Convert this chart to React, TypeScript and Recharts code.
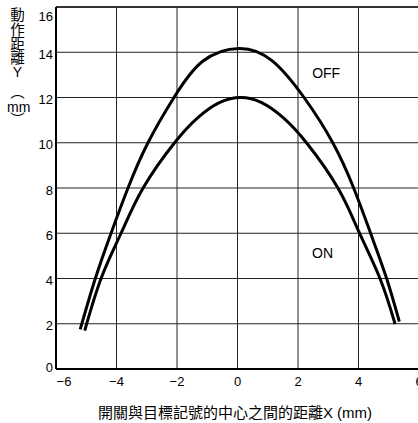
import { LineChart, Line, XAxis, YAxis, CartesianGrid, ReferenceLine, ReferenceDot } from 'recharts';

const X_TICKS = [-6, -4, -2, 0, 2, 4, 6];
const Y_TICKS = [0, 2, 4, 6, 8, 10, 12, 14, 16];

// OFF curve (outer)
const OFF_X = [-5.2, -4.7, -4.18, -3.62, -2.96, -2.1, -1.15, 0.06, 1.15, 2.2, 3.15, 3.84, 4.4, 4.93, 5.35];
const OFF_Y = [1.75, 4, 6, 8, 10, 12, 13.6, 14.17, 13.62, 12, 10, 8, 6, 4, 2.09];

// ON curve (inner)
const ON_X = [-5.05, -4.51, -3.85, -3.12, -2.08, -1.3, -0.6, 0.11, 0.8, 1.5, 2.28, 3.32, 4.0, 4.71, 5.21];
const ON_Y = [1.7, 4, 6, 8, 10, 11.12, 11.77, 12.0, 11.77, 11.12, 10, 8, 6.1, 4, 1.99];

const offData = OFF_X.map((x, i) => ({ x, y: OFF_Y[i] }));
const onData = ON_X.map((x, i) => ({ x, y: ON_Y[i] }));

const LATIN = '"Liberation Sans", Arial, "Noto Sans CJK TC", sans-serif';
const CJK = '"Noto Sans CJK TC", "Noto Sans CJK SC", sans-serif';

const fmt = (v: number) => (v < 0 ? '\u2212' + Math.abs(v) : String(v));

const XTick = ({ x, y, payload }: any) => {
  const shift = payload.value === -6 ? 8 : 0;
  return (
    <text x={x + shift} y={y} dy={15} textAnchor="middle" fontSize={13} fontFamily={LATIN} fill="#000">
      {fmt(payload.value)}
    </text>
  );
};

const YTick = ({ y, payload }: any) => {
  let dy = 6.5;
  if (payload.value === 16) dy = 12;
  if (payload.value === 0) dy = 3;
  return (
    <text x={53} y={y} dy={dy} textAnchor="end" fontSize={13} fontFamily={LATIN} fill="#000">
      {payload.value}
    </text>
  );
};

// vertical y-axis title, one glyph per row
const Y_LABEL = ['動', '作', '距', '離', 'Y', '\uFE35', 'mm', '\uFE36'];
const Y_LABEL_TOP = [7, 22, 36, 50, 65, 84, 100, 112];

export default function App() {
  return (
    <div style={{ position: 'absolute', left: 0, top: 0, width: 418, height: 423, overflow: 'hidden', background: '#fff' }}>
      <LineChart width={425} height={423} margin={{ top: 7, right: 6, bottom: 0, left: 0 }}>
        <CartesianGrid stroke="#222" strokeWidth={1} />
        <XAxis
          type="number"
          dataKey="x"
          domain={[-6, 6]}
          ticks={X_TICKS}
          height={54}
          tickSize={0}
          tickLine={false}
          axisLine={false}
          tick={<XTick />}
          allowDataOverflow
        />
        <YAxis
          type="number"
          domain={[0, 16]}
          ticks={Y_TICKS}
          width={56}
          tickSize={0}
          tickLine={false}
          axisLine={false}
          tick={<YTick />}
          allowDataOverflow
        />
        <ReferenceLine y={16} stroke="#333" strokeWidth={2} />
        <ReferenceLine y={0} stroke="#000" strokeWidth={2} />
        <ReferenceLine x={-6} stroke="#000" strokeWidth={2} />
        <Line data={offData} dataKey="y" type="natural" dot={false} stroke="#000" strokeWidth={3} isAnimationActive={false} />
        <Line data={onData} dataKey="y" type="natural" dot={false} stroke="#000" strokeWidth={3} isAnimationActive={false} />
        <ReferenceDot
          x={2.93}
          y={13.1}
          r={0}
          fill="none"
          stroke="none"
          label={{ value: 'OFF', position: 'center', fontSize: 14, fontFamily: LATIN, fill: '#000' }}
        />
        <ReferenceDot
          x={2.81}
          y={5.13}
          r={0}
          fill="none"
          stroke="none"
          label={{ value: 'ON', position: 'center', fontSize: 14, fontFamily: LATIN, fill: '#000' }}
        />
      </LineChart>
      {Y_LABEL.map((c, i) => (
        <div
          key={i}
          style={{
            position: 'absolute',
            left: 7,
            top: Y_LABEL_TOP[i],
            width: 21,
            textAlign: 'center',
            fontFamily: c === 'Y' || c === 'mm' ? LATIN : CJK,
            fontSize: c === 'Y' || c === 'mm' ? 14 : 14.5,
            lineHeight: '14px',
            color: '#000',
          }}
        >
          {c}
        </div>
      ))}
      <div
        style={{
          position: 'absolute',
          left: 0,
          top: 403,
          width: 470,
          textAlign: 'center',
          fontFamily: LATIN,
          fontSize: 15,
          lineHeight: '20px',
          color: '#000',
          whiteSpace: 'nowrap',
        }}
      >
        開關與目標記號的中心之間的距離X (mm)
      </div>
    </div>
  );
}
